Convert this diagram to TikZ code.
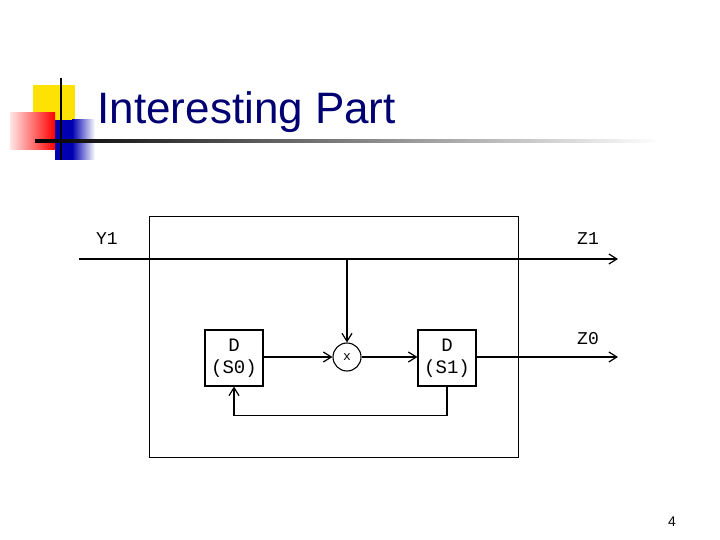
\documentclass[tikz,border=0pt]{standalone}
\usepackage{fontspec}
\setmainfont{Liberation Sans}
\setmonofont{Liberation Mono}
\usetikzlibrary{arrows.meta}
\begin{document}
\begin{tikzpicture}[x=1pt,y=-1pt,
  ln/.style={line width=1.3pt},
  arr/.style={ln,-{Straight Barb[length=8pt,width=10pt,line width=1.2pt]}},
  blk/.style={draw,line width=1.1pt,minimum width=58pt,minimum height=56pt,inner sep=0pt,align=center,font=\ttfamily\fontsize{19}{22}\selectfont},
  lbl/.style={font=\ttfamily\fontsize{18}{20}\selectfont}]
\useasboundingbox (0,0) rectangle (720,540);
% logo
\fill[yellow!85!orange] (33,85) rectangle (75,127);
\shade[left color=blue!70!black, right color=white] (72,120) rectangle (95,160);
\fill[blue!70!black] (55,120) rectangle (72,160);
\shade[left color=red!10, right color=red] (10,113) rectangle (55,150);
\draw[line width=2pt] (61,78) -- (61,160);
\shade[left color=black, right color=white] (35,140) rectangle (660,143);
\node[anchor=west,text=blue!45!black,font=\fontsize{44}{46}\selectfont] (title) at (94,112) {Interesting Part};
% diagram
\node[draw,line width=0.8pt,minimum width=369pt,minimum height=241pt,inner sep=0pt] (frame) at (333.5,336.5) {};
\coordinate (yin) at (79,259);
\coordinate (zout1) at (618,259);
\coordinate (tap) at (347,259);
\coordinate (zout0) at (618,357);
\node[blk] (d0) at (234,358) {D\\(S0)};
\node[blk] (d1) at (447,358) {D\\(S1)};
\node[draw,circle,line width=1.1pt,minimum size=28pt,inner sep=0pt,font=\ttfamily\fontsize{13}{15}\selectfont] (x) at (347,357) {x};
\draw[arr] (yin) -- (zout1);
\draw[arr] (tap) -- (x);
\draw[arr] (d0.east |- x) -- (x);
\draw[arr] (x) -- (d1.west |- x);
\draw[arr] (d1.east |- x) -- (zout0);
\draw[arr] (d1.south) -- ++(0,29) -| (d0.south);
\node[lbl] (y1) at (107,239) {Y1};
\node[lbl] (z1) at (588,239) {Z1};
\node[lbl] (z0) at (588,339) {Z0};
\node[font=\fontsize{14}{16}\selectfont] (pg) at (672,522) {4};
\end{tikzpicture}
\end{document}
